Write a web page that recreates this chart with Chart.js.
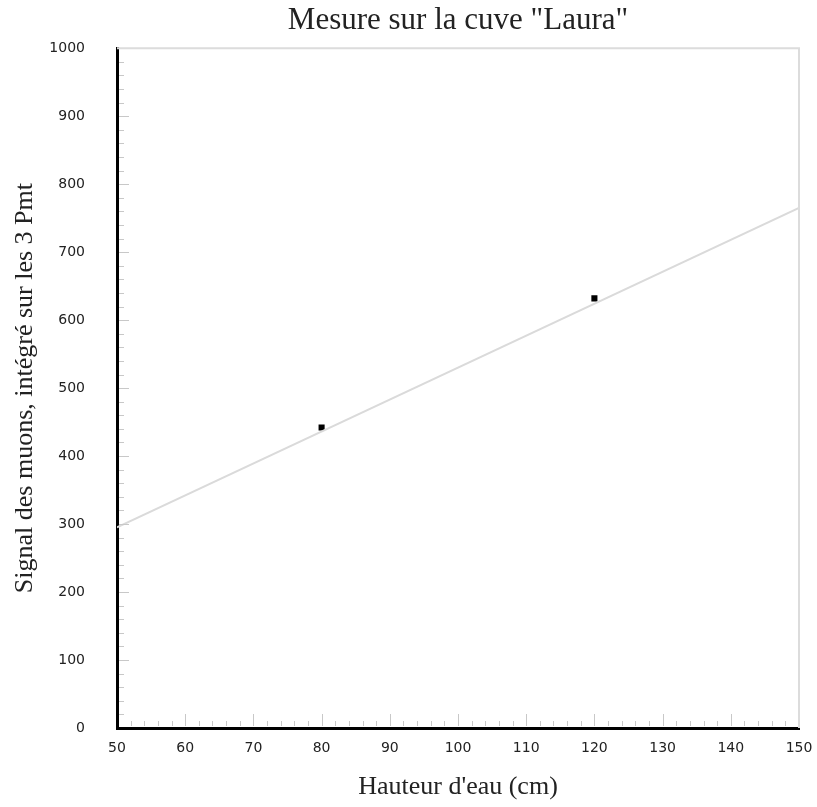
<!DOCTYPE html>
<html>
<head>
<meta charset="utf-8">
<script src="https://cdn.jsdelivr.net/npm/chart.js@4"></script>
<style>
  html, body { margin: 0; padding: 0; background: #fff; }
  #wrap { width: 817px; height: 807px; }
</style>
</head>
<body>
<div id="wrap"><canvas id="chart" width="817" height="807"></canvas></div>
<script>
// measured points
const hauteurs = [80, 120]
const signaux = [442, 632]

// fitted line, read at both ends of the plot
const fitX = [50, 150]
const fitY = [295, 765]

const xTicks = [50, 60, 70, 80, 90, 100, 110, 120, 130, 140, 150]
const yTicks = [0, 100, 200, 300, 400, 500, 600, 700, 800, 900, 1000]

// small inward ticks + light frame on top and right
const frameTicks = {
  id: 'frameTicks',
  afterDraw(chart) {
    const {ctx, chartArea: a, scales: {x, y}} = chart
    ctx.save()
    ctx.strokeStyle = '#dcdcdc'
    ctx.lineWidth = 2
    ctx.beginPath()
    ctx.moveTo(a.left, a.top)
    ctx.lineTo(a.right, a.top)
    ctx.lineTo(a.right, a.bottom)
    ctx.stroke()

    ctx.strokeStyle = '#c8c8c8'
    ctx.lineWidth = 1
    ctx.beginPath()
    for (let v = 52; v < 150; v += 2) {
      const px = Math.round(x.getPixelForValue(v)) + 0.5
      const len = v % 10 === 0 ? 12 : 5
      ctx.moveTo(px, a.bottom - 2)
      ctx.lineTo(px, a.bottom - 2 - len)
    }
    for (let v = 20; v < 1000; v += 20) {
      const py = Math.round(y.getPixelForValue(v)) + 0.5
      const len = v % 100 === 0 ? 10 : 5
      ctx.moveTo(a.left + 2, py)
      ctx.lineTo(a.left + 2 + len, py)
    }
    ctx.stroke()
    ctx.restore()
  }
}

new Chart(document.getElementById('chart'), {
  type: 'scatter',
  data: {
    datasets: [
      {
        label: 'ajustement',
        data: fitX.map((v, i) => ({x: v, y: fitY[i]})),
        showLine: true,
        borderColor: '#dadada',
        borderWidth: 2,
        pointRadius: 0
      },
      {
        label: 'mesures',
        data: hauteurs.map((v, i) => ({x: v, y: signaux[i]})),
        pointStyle: 'rect',
        pointRadius: 4.3,
        backgroundColor: '#000',
        borderColor: '#000',
        borderWidth: 0
      }
    ]
  },
  options: {
    responsive: false,
    animation: false,
    layout: { padding: { left: 0, right: 18, top: 0, bottom: 0 } },
    plugins: {
      legend: { display: false },
      tooltip: { enabled: false },
      title: {
        display: true,
        fullSize: false,
        text: 'Mesure sur la cuve "Laura"',
        color: '#222',
        font: { family: 'Liberation Serif', size: 31, weight: 'normal' },
        padding: { top: 2, bottom: 9 }
      }
    },
    scales: {
      x: {
        type: 'linear',
        min: 50,
        max: 150,
        afterBuildTicks: s => { s.ticks = xTicks.map(v => ({value: v})) },
        afterFit: s => { s.height = 79; s.paddingLeft = 0; s.paddingRight = 0 },
        grid: { display: false, drawTicks: false },
        border: { display: true, color: '#000', width: 3 },
        ticks: {
          color: '#222',
          padding: 12,
          maxRotation: 0,
          font: { family: 'DejaVu Sans', size: 14 },
          callback: v => String(v)
        },
        title: {
          display: true,
          text: "Hauteur d'eau (cm)",
          color: '#222',
          font: { family: 'Liberation Serif', size: 26 },
          padding: { top: 0, bottom: 4 }
        }
      },
      y: {
        type: 'linear',
        min: 0,
        max: 1000,
        afterBuildTicks: s => { s.ticks = yTicks.map(v => ({value: v})) },
        afterFit: s => { s.width = 117; s.paddingTop = 0; s.paddingBottom = 0 },
        grid: { display: false, drawTicks: false },
        border: { display: true, color: '#000', width: 3 },
        ticks: {
          color: '#222',
          padding: 32,
          font: { family: 'DejaVu Sans', size: 14 },
          callback: v => String(v)
        },
        title: {
          display: true,
          text: 'Signal des muons, intégré sur les 3 Pmt',
          color: '#222',
          font: { family: 'Liberation Serif', size: 26 },
          padding: { top: 10, bottom: 0 }
        }
      }
    }
  },
  plugins: [frameTicks]
})
</script>
</body>
</html>
